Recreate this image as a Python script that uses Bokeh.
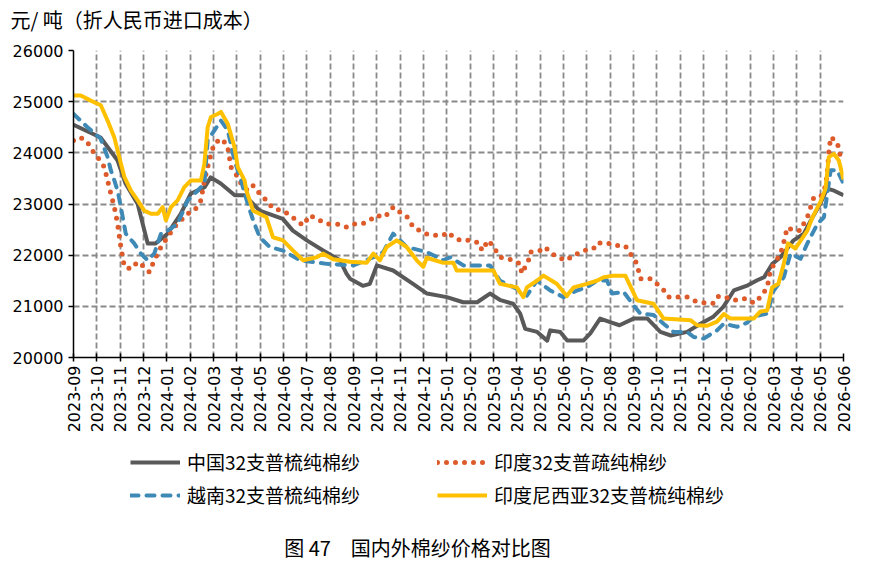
import math
from bokeh.plotting import figure
from bokeh.layouts import column
from bokeh.models import Range1d, FixedTicker, Legend, LegendItem, Title, Label
from bokeh.embed import file_html
from bokeh.resources import INLINE

# ---- tick labels ----
month_labels = ["2023-09", "2023-10", "2023-11", "2023-12", "2024-01", "2024-02", "2024-03",
                "2024-04", "2024-05", "2024-06", "2024-07", "2024-08", "2024-09", "2024-10",
                "2024-11", "2024-12", "2025-01", "2025-02", "2025-03", "2025-04", "2025-05",
                "2025-06", "2025-07", "2025-08", "2025-09", "2025-10", "2025-11", "2025-12",
                "2026-01", "2026-02", "2026-03", "2026-04", "2026-05", "2026-06"]
y_ticks = [20000, 21000, 22000, 23000, 24000, 25000, 26000]

# ---- series (x = months since 2023-09) ----
china_m = [0, 1.16, 1.89, 2.23, 2.75, 3.18, 3.52, 4.03, 4.59, 5.02, 5.62, 5.88, 6.31, 6.91, 7.34,
           7.98, 8.97, 9.4, 10.0, 10.7, 11.42, 11.7, 11.85, 12.4, 12.7, 13.0, 13.7, 14.55, 15.15,
           16.0, 16.7, 17.3, 17.85, 18.3, 18.84, 19.14, 19.36, 19.87, 20.3, 20.43, 20.86, 21.16,
           21.85, 22.15, 22.57, 23.0, 23.4, 24.0, 24.6, 25.15, 25.6, 26.3, 26.87, 27.4, 27.85,
           28.3, 28.9, 29.3, 29.6, 29.95, 30.3, 30.86, 31.3, 31.6, 32.0, 32.3, 32.6, 33.0]
china_v = [24550, 24300, 23850, 23400, 23000, 22230, 22230, 22420, 22800, 23200, 23330, 23520,
           23400, 23170, 23170, 22870, 22710, 22480, 22290, 22090, 21900, 21640, 21540, 21400,
           21440, 21800, 21700, 21440, 21250, 21180, 21080, 21080, 21250, 21120, 21050, 20860,
           20560, 20500, 20330, 20530, 20500, 20330, 20330, 20470, 20760, 20690, 20630, 20760,
           20760, 20500, 20430, 20500, 20660, 20790, 20990, 21310, 21410, 21510, 21570, 21830,
           21960, 22290, 22420, 22680, 23000, 23300, 23260, 23170]

india_m = [0, 0.31, 0.6, 0.74, 1.03, 1.32, 1.46, 1.6, 1.75, 1.89, 2.03, 2.18, 2.46, 2.75, 3.03,
           3.25, 3.46, 3.75, 4.03, 4.32, 4.61, 4.89, 5.18, 5.46, 5.61, 5.75, 5.89, 6.04, 6.32,
           6.47, 6.61, 6.75, 7.04, 7.18, 7.47, 7.7, 7.98, 8.27, 8.55, 8.98, 9.27, 9.56, 9.84,
           10.13, 10.42, 10.85, 11.27, 11.7, 11.99, 12.42, 12.7, 12.99, 13.27, 13.56, 13.7,
           13.99, 14.28, 14.56, 15.06, 15.42, 15.85, 16.06, 16.28, 16.57, 17.0, 17.42, 17.5,
           17.78, 18.0, 18.28, 18.85, 19.14, 19.21, 19.36, 19.5, 19.57, 20.0, 20.21, 20.43,
           20.72, 21.15, 21.43, 21.72, 22.0, 22.29, 22.43, 22.86, 23.22, 23.65, 23.86, 24.15,
           24.29, 24.72, 25.0, 25.29, 25.5, 26.3, 26.65, 27.0, 27.44, 27.65, 28.0, 28.3, 28.73,
           29.01, 29.15, 29.44, 29.73, 29.87, 30.01, 30.3, 30.44, 30.59, 30.87, 31.16, 31.3,
           31.45, 31.59, 31.73, 32.02, 32.16, 32.3, 32.37, 32.45, 32.73, 32.87]
india_v = [24240, 24300, 24210, 24080, 23920, 23720, 23460, 23200, 22940, 22610, 22160, 21770,
           21730, 21870, 21770, 21670, 21900, 22160, 22350, 22550, 22680, 22810, 22870, 23070,
           23460, 23720, 23980, 24180, 24280, 24210, 24110, 23720, 23530, 23400, 23260, 23360,
           23200, 23070, 22910, 22870, 22780, 22680, 22580, 22780, 22710, 22610, 22610, 22550,
           22610, 22620, 22680, 22780, 22740, 22840, 22940, 22840, 22760, 22550, 22420, 22390,
           22390, 22450, 22350, 22290, 22290, 22230, 22090, 22290, 22160, 21960, 21900, 21830,
           21640, 21770, 21900, 22060, 22090, 22160, 22060, 21960, 21900, 22010, 22040, 22110,
           22130, 22240, 22240, 22190, 22180, 22030, 21830, 21540, 21540, 21440, 21320, 21180,
           21180, 21100, 21070, 21060, 21200, 21170, 21120, 21150, 21120, 21060, 21180, 21370,
           21700, 21810, 22030, 22250, 22540, 22480, 22480, 22620, 22740, 22940, 23130, 23150,
           23220, 23560, 24000, 24310, 24210, 23920]

vietnam_m = [0, 0.6, 1.16, 1.46, 1.6, 1.75, 1.89, 2.03, 2.24, 2.6, 2.89, 3.18, 3.46, 3.75, 4.03,
             4.46, 4.89, 5.32, 5.61, 5.75, 6.04, 6.32, 6.61, 6.9, 7.18, 7.47, 7.7, 7.98, 8.41,
             8.98, 9.7, 10.85, 11.99, 12.85, 13.27, 13.7, 14.28, 15.14, 15.85, 16.14, 16.71,
             17.85, 18.28, 19.14, 19.43, 19.86, 20.43, 21.0, 21.57, 22.0, 22.43, 22.86, 23.08,
             23.58, 24.0, 24.29, 24.86, 25.29, 25.72, 26.3, 26.58, 27.01, 27.58, 27.87, 28.44,
             28.87, 29.15, 29.73, 30.01, 30.44, 30.73, 31.16, 31.45, 31.88, 32.16, 32.45, 32.73,
             33.0]
vietnam_v = [24760, 24500, 24280, 23920, 23660, 23460, 23260, 22940, 22420, 22230, 22030, 21900,
             22030, 22420, 22480, 22610, 23070, 23260, 23400, 24240, 24440, 24630, 24440, 23850,
             23460, 23000, 22680, 22350, 22160, 22090, 21900, 21830, 21800, 21960, 22060, 22420,
             22160, 22060, 21900, 21960, 21800, 21800, 21500, 21310, 21210, 21500, 21310, 21180,
             21310, 21370, 21500, 21510, 21250, 21280, 21020, 20860, 20830, 20660, 20500, 20500,
             20400, 20370, 20530, 20660, 20600, 20680, 20800, 20860, 21310, 21570, 22030, 21930,
             22230, 22610, 22740, 23660, 23660, 23400]

indonesia_m = [0, 0.31, 0.74, 1.17, 1.46, 1.75, 2.03, 2.18, 2.46, 2.75, 3.03, 3.32, 3.61, 3.82,
               3.96, 4.18, 4.46, 4.75, 5.03, 5.46, 5.61, 5.75, 5.89, 6.18, 6.32, 6.61, 6.9, 7.04,
               7.33, 7.41, 7.7, 8.27, 8.55, 8.98, 9.41, 9.84, 10.42, 10.7, 11.13, 11.85, 12.56,
               12.85, 13.13, 13.42, 13.85, 14.28, 14.71, 14.99, 15.14, 15.85, 16.28, 16.42, 18.0,
               18.28, 19.0, 19.28, 19.43, 19.86, 20.14, 20.71, 21.14, 21.43, 22.0, 22.43, 22.72,
               23.15, 23.65, 24.15, 24.86, 25.29, 26.44, 26.73, 27.16, 27.58, 27.87, 28.15, 29.15,
               29.44, 29.73, 29.94, 30.21, 30.44, 30.62, 30.94, 31.23, 31.45, 31.67, 32.02, 32.23,
               32.37, 32.59, 32.8, 33.0]
indonesia_v = [25120, 25120, 25020, 24930, 24630, 24300, 23790, 23530, 23260, 23070, 22870,
               22810, 22810, 22940, 22680, 22940, 23070, 23330, 23460, 23460, 23790, 24500,
               24700, 24760, 24800, 24570, 24110, 23720, 23460, 23260, 22870, 22740, 22350,
               22290, 22090, 21900, 21960, 22030, 21920, 21870, 21850, 22030, 21900, 22160,
               22290, 22160, 21900, 21770, 21950, 21850, 21850, 21700, 21700, 21440, 21370,
               21180, 21370, 21500, 21600, 21440, 21200, 21370, 21440, 21500, 21570, 21600,
               21600, 21120, 21050, 20760, 20730, 20630, 20620, 20700, 20850, 20760, 20760,
               20900, 20920, 21370, 21440, 21830, 22230, 22130, 22330, 22480, 22740, 23050,
               23300, 23920, 23980, 23850, 23480]

series_names = ["中国32支普梳纯棉纱", "印度32支普疏纯棉纱", "越南32支普梳纯棉纱", "印度尼西亚32支普梳纯棉纱"]
series_colors = ["#595959", "#dd5a2b", "#3e89b5", "#ffc000"]
unit_title = "元/ 吨（折人民币进口成本）"
caption = "图 47\u3000国内外棉纱价格对比图"

CJK = "Noto Sans CJK SC"
LAT = "DejaVu Sans"

def blank_strip(h):
    f = figure(width=870, height=h, x_range=Range1d(0, 1), y_range=Range1d(0, 1),
               x_axis_type=None, y_axis_type=None, output_backend="svg",
               toolbar_location=None, min_border=0)
    f.outline_line_color = None
    f.grid.visible = False
    f.background_fill_color = "white"
    f.border_fill_color = "white"
    return f

# ---------------- top strip (unit title) ----------------
top = blank_strip(38)
top.title = Title(text=unit_title, align="left", offset=-63, standoff=4,
                  text_font=CJK, text_font_size="20px", text_font_style="normal",
                  text_color="black")

# ---------------- main chart ----------------
p = figure(width=870, height=402, title=None,
           x_range=Range1d(0, 33), y_range=Range1d(20000, 26000),
           output_backend="svg", toolbar_location=None,
           min_border_left=73, min_border_right=27, min_border_top=12, min_border_bottom=83)
p.outline_line_color = None
p.background_fill_color = "white"
p.border_fill_color = "white"

xt = FixedTicker(ticks=list(range(len(month_labels))))
yt = FixedTicker(ticks=y_ticks)
p.xaxis.ticker = xt
p.xgrid.ticker = xt
p.yaxis.ticker = yt
p.ygrid.ticker = yt
p.xaxis.major_label_overrides = {i: s for i, s in enumerate(month_labels)}
p.xaxis.major_label_orientation = math.pi / 2
p.yaxis.formatter.use_scientific = False

for g in (p.xgrid, p.ygrid):
    g.grid_line_color = "#8a8a8a"
    g.grid_line_width = 1.8
    g.grid_line_dash = "6 3"

for ax in (p.xaxis, p.yaxis):
    ax.axis_line_color = "black"
    ax.axis_line_width = 1.5
    ax.major_tick_line_color = "black"
    ax.major_tick_line_width = 1.5
    ax.minor_tick_line_color = None
    ax.major_label_text_font = LAT
    ax.major_label_text_font_size = "16px"
    ax.major_label_text_color = "black"
p.xaxis.major_tick_in = 4
p.xaxis.major_tick_out = 4
p.xaxis.major_label_standoff = 4
p.yaxis.major_tick_in = 0
p.yaxis.major_tick_out = 5
p.yaxis.major_label_standoff = 5

styles = [
    dict(line_width=4, line_join="round"),
    dict(line_width=5, line_dash="0 9", line_cap="round", line_join="round"),
    dict(line_width=4, line_dash="8 8", line_cap="round", line_join="round"),
    dict(line_width=4, line_join="round"),
]
data = [(china_m, china_v), (india_m, india_v), (vietnam_m, vietnam_v), (indonesia_m, indonesia_v)]
for (xm, yv), c, st in zip(data, series_colors, styles):
    p.line(xm, yv, line_color=c, **st)

# ---------------- legend + caption strip ----------------
# (frame of this strip is aligned with the chart frame: x = 0 at the chart's left axis)
q = figure(width=870, height=122, x_range=Range1d(0, 33), y_range=Range1d(0, 1),
           x_axis_type=None, y_axis_type=None, output_backend="svg", toolbar_location=None,
           min_border=0)
q.outline_line_color = None
q.grid.visible = False
q.background_fill_color = "white"
q.border_fill_color = "white"

legend_pos = [(57, 87), (364, 87), (57, 54), (364, 54)]
for (xm, yv), name, c, st, loc in zip(data, series_names, series_colors, styles, legend_pos):
    r = q.line(xm, yv, line_color=c, **st)   # out of this strip's y-range: legend sample only
    lg = Legend(items=[LegendItem(label=name, renderers=[r])], location=loc,
                border_line_color=None, background_fill_alpha=0, padding=0, margin=0,
                glyph_width=50, glyph_height=20, label_standoff=7,
                label_text_font=CJK, label_text_font_size="19px",
                label_text_color="black", label_height=20)
    q.add_layout(lg, "center")

q.add_layout(Label(x=344, y=15, x_units="screen", y_units="screen", text=caption,
                   text_font=CJK, text_font_size="20px", text_align="center",
                   text_baseline="middle", text_color="black"))

open("out.html", "w").write(file_html(column(top, p, q, spacing=0), INLINE))
